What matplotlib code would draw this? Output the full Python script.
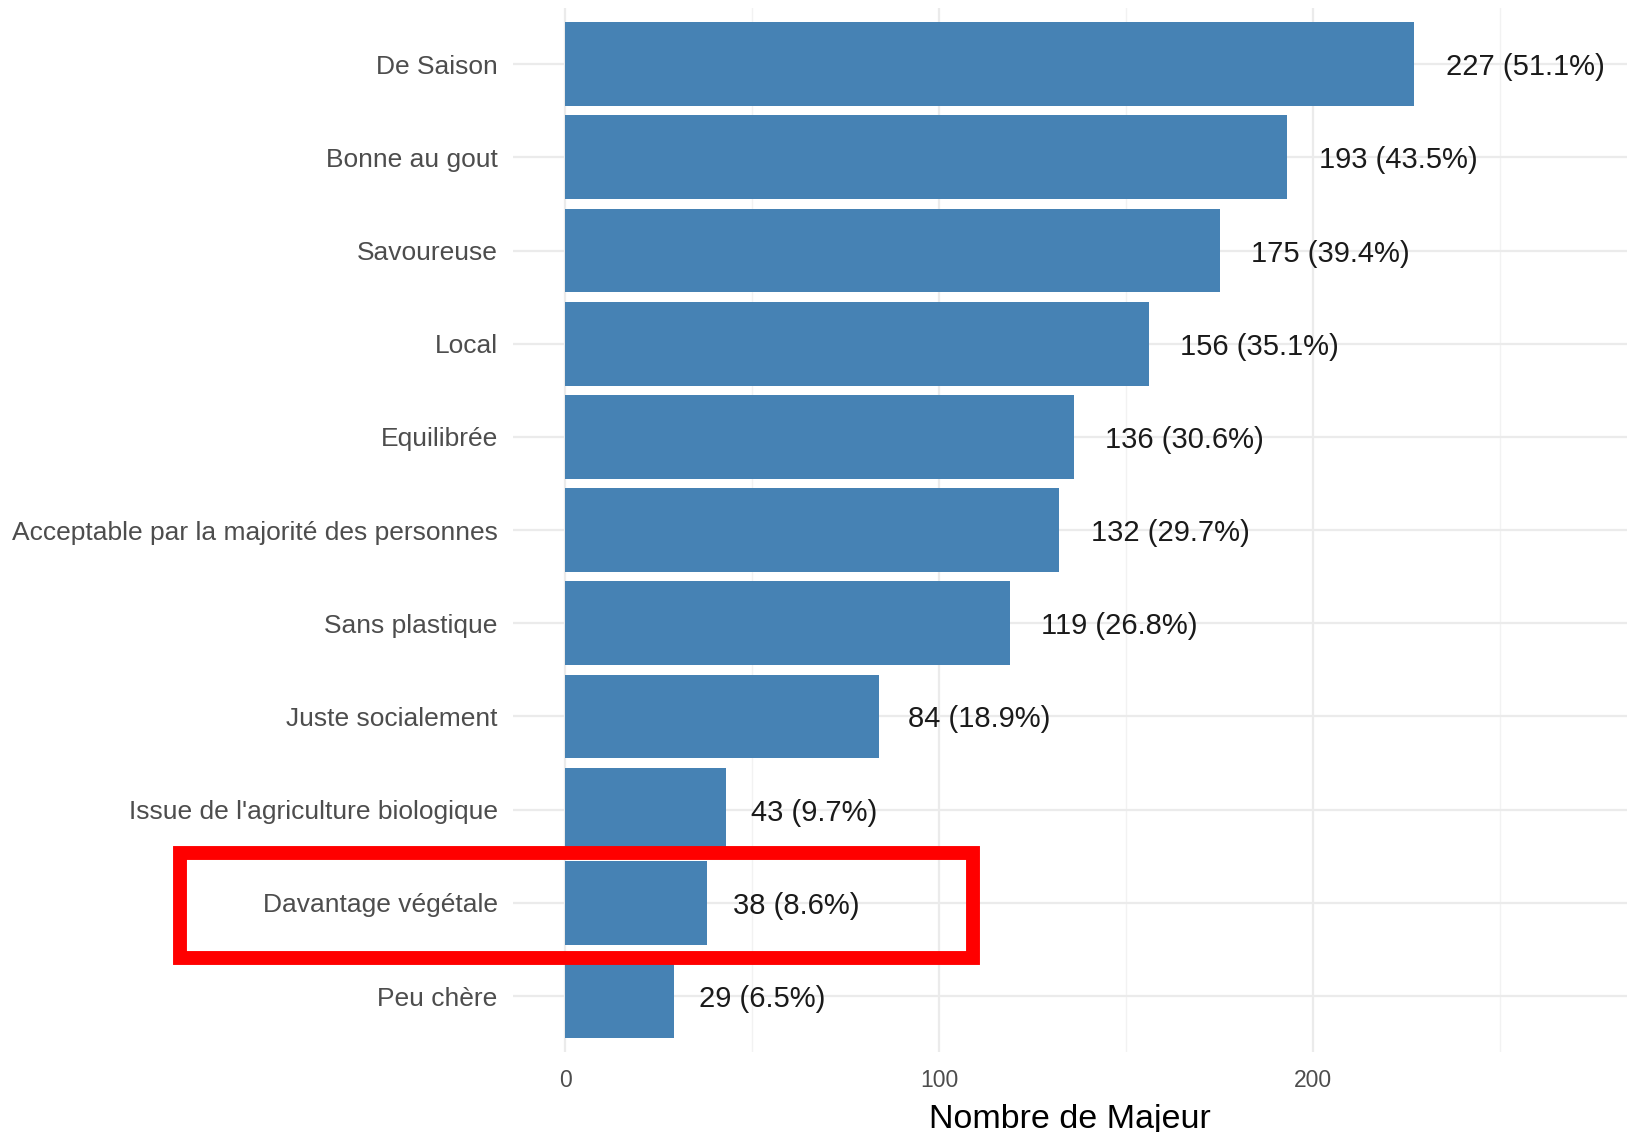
import matplotlib.pyplot as plt
import matplotlib.patches as patches
import matplotlib.transforms as mtransforms

categories = ["De Saison", "Bonne au gout", "Savoureuse", "Local", "Equilibrée",
              "Acceptable par la majorité des personnes", "Sans plastique",
              "Juste socialement", "Issue de l'agriculture biologique",
              "Davantage végétale", "Peu chère"]
counts = [227, 193, 175, 156, 136, 132, 119, 84, 43, 38, 29]
percents = [51.1, 43.5, 39.4, 35.1, 30.6, 29.7, 26.8, 18.9, 9.7, 8.6, 6.5]
x_ticks = [0, 100, 200]
x_minor = [50, 150, 250]

plt.rcParams['font.family'] = ['Liberation Sans', 'DejaVu Sans']

fig = plt.figure(figsize=(16.27, 11.32), dpi=100)
ax = fig.add_axes([0.3153, 0.0707, 0.6847, 0.922])

ypos = list(range(len(categories)))
ax.barh(ypos, counts, height=0.9, color='#4682B4', zorder=2)

ax.set_ylim(len(categories) - 0.4, -0.6)
ax.set_xlim(-14, 284)
ax.set_yticks(ypos)
ax.set_yticklabels(categories)
ax.set_xticks(x_ticks)
ax.set_xticks(x_minor, minor=True)
ax.tick_params(axis='y', length=0, pad=11, labelsize=19, labelcolor='#4d4d4d')
ax.tick_params(axis='x', which='both', length=0, pad=12, labelsize=16.5, labelcolor='#4d4d4d')
ax.grid(True, which='major', color='#ebebeb', lw=1.6, zorder=0)
ax.grid(True, which='minor', axis='x', color='#f2f2f2', lw=1.0, zorder=0)
for s in ax.spines.values():
    s.set_visible(False)
ax.set_xlabel("Nombre de Majeur", fontsize=24.5, color='black', labelpad=9)

# labels: ggplot hjust = -0.2 -> gap of 20% of text width
texts = []
for y, c, p in zip(ypos, counts, percents):
    t = ax.text(c, y, f"{c} ({p}%)", ha='left', va='center_baseline', fontsize=21,
                color='#1a1a1a', zorder=3)
    texts.append(t)
fig.canvas.draw()
renderer = fig.canvas.get_renderer()
for t in texts:
    w = t.get_window_extent(renderer).width
    t.set_transform(mtransforms.offset_copy(ax.transData, fig=fig, x=0.2 * w, y=0, units='dots'))

# red highlight box
rect = patches.Rectangle((180 / 1627, 174 / 1132), 793 / 1627, 105 / 1132,
                         transform=fig.transFigure, fill=False, edgecolor='#ff0000',
                         lw=10, clip_on=False, zorder=10)
fig.patches.append(rect)

fig.savefig("out.png", dpi=100)
